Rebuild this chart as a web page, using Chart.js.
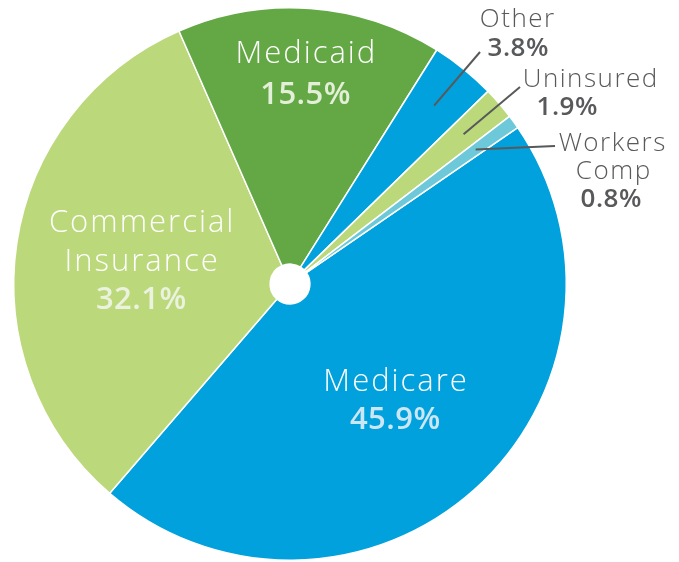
<!DOCTYPE html>
<html>
<script src="https://cdn.jsdelivr.net/npm/chart.js@4.4.1/dist/chart.umd.min.js"></script>
<body style="margin:0;background:#fff">

<canvas id="payerChart" width="679" height="562"></canvas>

<script>

    // payer mix, clockwise from the Workers Comp / Medicare edge
    const payers = ["Medicare", "Commercial Insurance", "Medicaid", "Other", "Uninsured", "Workers Comp"];
    const shares = [45.9, 32.1, 15.5, 3.8, 1.9, 0.8];
    const shareLabels = ["45.9%", "32.1%", "15.5%", "3.8%", "1.9%", "0.8%"];
    const sliceColors = ["#00A1DC", "#BBD87B", "#63A844", "#00A1DC", "#BBD87B", "#6DC8D9"];
    const percentTints = ["#CDE6F4", "#EBF2DE", "#E3EFD8", "#58595B", "#58595B", "#58595B"];

    const FONT = "'Open Sans', Lato, sans-serif";
    const GREY = "#58595B";

    // inside labels: lines of name text and how far out along the slice they sit
    const insideLabels = {
        0: { lines: ["Medicare"], radius: 0.57, gap: 38 },
        1: { lines: ["Commercial", "Insurance"], radius: 0.545, gap: 38.5 },
        2: { lines: ["Medicaid"], radius: 0.76, gap: 41 }
    };
    // outside labels: where the leader line ends and where each text line goes
    const outsideLabels = {
        3: { lineEnd: [480, 52], text: [["Other", 517, 20], ["3.8%", 518, 49]] },
        4: { lineEnd: [520, 87], text: [["Uninsured", 590, 80], ["1.9%", 567, 108]] },
        5: { lineEnd: [555, 146], text: [["Workers", 612, 144], ["Comp", 613, 172], ["0.8%", 611, 200]] }
    };

    function spacedText(ctx, txt, x, y, spacing) {
        ctx.letterSpacing = spacing + "px";
        // letterSpacing adds a trailing gap, shift half of it back
        ctx.fillText(txt, x + spacing / 2, y);
        ctx.letterSpacing = "0px";
    }

    const sliceLabels = {
        id: "sliceLabels",
        afterDraw(chart) {
            const ctx = chart.ctx;
            const arcs = chart.getDatasetMeta(0).data;
            ctx.save();
            ctx.textAlign = "center";
            ctx.textBaseline = "middle";

            arcs.forEach((arc, i) => {
                const mid = (arc.startAngle + arc.endAngle) / 2;
                const r = arc.outerRadius;

                if (insideLabels[i]) {
                    const lab = insideLabels[i];
                    const lines = lab.lines.concat([shareLabels[i]]);
                    const cx = arc.x + Math.cos(mid) * r * lab.radius;
                    const cy = arc.y + Math.sin(mid) * r * lab.radius;
                    const top = cy - (lines.length - 1) * lab.gap / 2;
                    lines.forEach((txt, k) => {
                        const isPct = k === lines.length - 1;
                        ctx.font = (isPct ? "600 " : "300 ") + "31px " + FONT;
                        ctx.fillStyle = isPct ? percentTints[i] : "#FFFFFF";
                        spacedText(ctx, txt, cx, top + k * lab.gap, isPct ? 0.5 : 2);
                    });
                }

                if (outsideLabels[i]) {
                    const lab = outsideLabels[i];
                    const sx = arc.x + Math.cos(mid) * r * 0.83;
                    const sy = arc.y + Math.sin(mid) * r * 0.83;
                    ctx.strokeStyle = GREY;
                    ctx.lineWidth = 2;
                    ctx.beginPath();
                    ctx.moveTo(sx, sy);
                    ctx.lineTo(lab.lineEnd[0], lab.lineEnd[1]);
                    ctx.stroke();
                    lab.text.forEach((t, k) => {
                        const isPct = k === lab.text.length - 1;
                        ctx.font = (isPct ? "600 " : "300 ") + "26px " + FONT;
                        ctx.fillStyle = GREY;
                        spacedText(ctx, t[0], t[1], t[2], isPct ? 0.5 : 1.5);
                    });
                }
            });
            ctx.restore();
        }
    };

    const chart = new Chart(document.getElementById("payerChart"), {
        type: "doughnut",
        data: {
            labels: payers,
            datasets: [{
                data: shares,
                backgroundColor: sliceColors,
                borderColor: "#FFFFFF",
                borderWidth: 1.5
            }]
        },
        options: {
            responsive: false,
            animation: false,
            rotation: 55.5,
            cutout: "7.2%",
            layout: { padding: { left: 13, right: 112, top: 7, bottom: 1 } },
            plugins: {
                legend: { display: false },
                tooltip: { enabled: false }
            }
        },
        plugins: [sliceLabels]
    });

</script>

</body>
</html>
